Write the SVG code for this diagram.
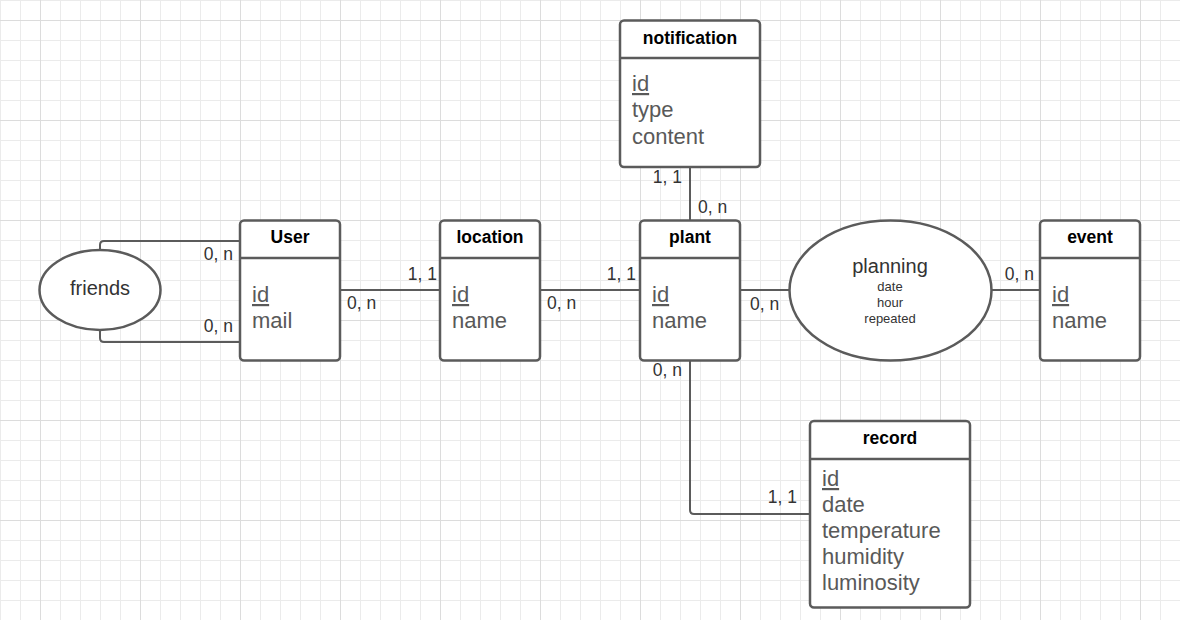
<svg xmlns="http://www.w3.org/2000/svg" width="1180" height="620" viewBox="0 0 1180 620">
<defs>
<pattern id="minor" width="20" height="20" patternUnits="userSpaceOnUse">
<path d="M0 0.5H20M0.5 0V20" fill="none" stroke="#ebebeb" stroke-width="1"/>
</pattern>
<pattern id="major" x="40" y="20" width="100" height="100" patternUnits="userSpaceOnUse">
<path d="M0 0.5H100M0.5 0V100" fill="none" stroke="#dcdcdc" stroke-width="1"/>
</pattern>
</defs>
<style>
.box{fill:#fff;stroke:#5b5b5b;stroke-width:2.5}
.hdr{stroke:#5b5b5b;stroke-width:2.5}
.title{font-family:"Liberation Sans",Arial,sans-serif;font-weight:bold;font-size:17.5px;fill:#000;text-anchor:middle}
.attr{font-family:"Liberation Sans",Arial,sans-serif;font-size:22px;fill:#595959}
.lbl{font-family:"Liberation Sans",Arial,sans-serif;font-size:17.5px;fill:#333}
.rel{font-family:"Liberation Sans",Arial,sans-serif;fill:#333;text-anchor:middle}
.conn{fill:none;stroke:#5b5b5b;stroke-width:2}
</style>
<rect width="1180" height="620" fill="#fff"/>
<rect width="1180" height="620" fill="url(#minor)"/>
<rect width="1180" height="620" fill="url(#major)"/>

<g id="connectors">
<path class="conn" d="M100 250V245Q100 241 104 241H240"/>
<path class="conn" d="M100 330V338Q100 342 104 342H240"/>
<path class="conn" d="M340 290H440"/>
<path class="conn" d="M540 290H640"/>
<path class="conn" d="M740 290H790"/>
<path class="conn" d="M990 290H1040"/>
<path class="conn" d="M690 167V220"/>
<path class="conn" d="M690 360V510Q690 514 694 514H810"/>
<text class="lbl" x="233" y="260" text-anchor="end">0, n</text>
<text class="lbl" x="233" y="332" text-anchor="end">0, n</text>
<text class="lbl" x="347" y="309">0, n</text>
<text class="lbl" x="437" y="280" text-anchor="end">1, 1</text>
<text class="lbl" x="547" y="309">0, n</text>
<text class="lbl" x="636" y="280" text-anchor="end">1, 1</text>
<text class="lbl" x="750" y="310">0, n</text>
<text class="lbl" x="1034" y="280" text-anchor="end">0, n</text>
<text class="lbl" x="682" y="183" text-anchor="end">1, 1</text>
<text class="lbl" x="698" y="213">0, n</text>
<text class="lbl" x="682" y="376" text-anchor="end">0, n</text>
<text class="lbl" x="797" y="503" text-anchor="end">1, 1</text>
</g>

<g id="friends">
<ellipse class="box" cx="100" cy="290" rx="60.5" ry="40"/>
<text class="rel" x="100" y="295" font-size="20">friends</text>
</g>

<g id="user">
<rect class="box" x="240" y="220.5" width="100" height="140" rx="4"/>
<line class="hdr" x1="240" y1="258" x2="340" y2="258"/>
<text class="title" x="290" y="243">User</text>
<text class="attr" x="252" y="302" text-decoration="underline">id</text>
<text class="attr" x="252" y="328">mail</text>
</g>

<g id="location">
<rect class="box" x="440" y="220.5" width="100" height="140" rx="4"/>
<line class="hdr" x1="440" y1="258" x2="540" y2="258"/>
<text class="title" x="490" y="243">location</text>
<text class="attr" x="452" y="302" text-decoration="underline">id</text>
<text class="attr" x="452" y="328">name</text>
</g>

<g id="plant">
<rect class="box" x="640" y="220.5" width="100" height="140" rx="4"/>
<line class="hdr" x1="640" y1="258" x2="740" y2="258"/>
<text class="title" x="690" y="243">plant</text>
<text class="attr" x="652" y="302" text-decoration="underline">id</text>
<text class="attr" x="652" y="328">name</text>
</g>

<g id="notification">
<rect class="box" x="620" y="20.5" width="140" height="146.5" rx="4"/>
<line class="hdr" x1="620" y1="58" x2="760" y2="58"/>
<text class="title" x="690" y="44">notification</text>
<text class="attr" x="632" y="91" text-decoration="underline">id</text>
<text class="attr" x="632" y="117">type</text>
<text class="attr" x="632" y="144">content</text>
</g>

<g id="planning">
<ellipse class="box" cx="890.5" cy="290.5" rx="101" ry="70"/>
<text class="rel" x="890" y="273" font-size="20">planning</text>
<text class="rel" x="890" y="291" font-size="13">date</text>
<text class="rel" x="890" y="307" font-size="13">hour</text>
<text class="rel" x="890" y="323" font-size="13">repeated</text>
</g>

<g id="event">
<rect class="box" x="1040" y="220.5" width="100" height="140" rx="4"/>
<line class="hdr" x1="1040" y1="258" x2="1140" y2="258"/>
<text class="title" x="1090" y="243">event</text>
<text class="attr" x="1052" y="302" text-decoration="underline">id</text>
<text class="attr" x="1052" y="328">name</text>
</g>

<g id="record">
<rect class="box" x="810" y="421" width="160" height="186.5" rx="4"/>
<line class="hdr" x1="810" y1="459" x2="970" y2="459"/>
<text class="title" x="890" y="444">record</text>
<text class="attr" x="822" y="486" text-decoration="underline">id</text>
<text class="attr" x="822" y="512">date</text>
<text class="attr" x="822" y="538">temperature</text>
<text class="attr" x="822" y="564">humidity</text>
<text class="attr" x="822" y="590">luminosity</text>
</g>
</svg>
